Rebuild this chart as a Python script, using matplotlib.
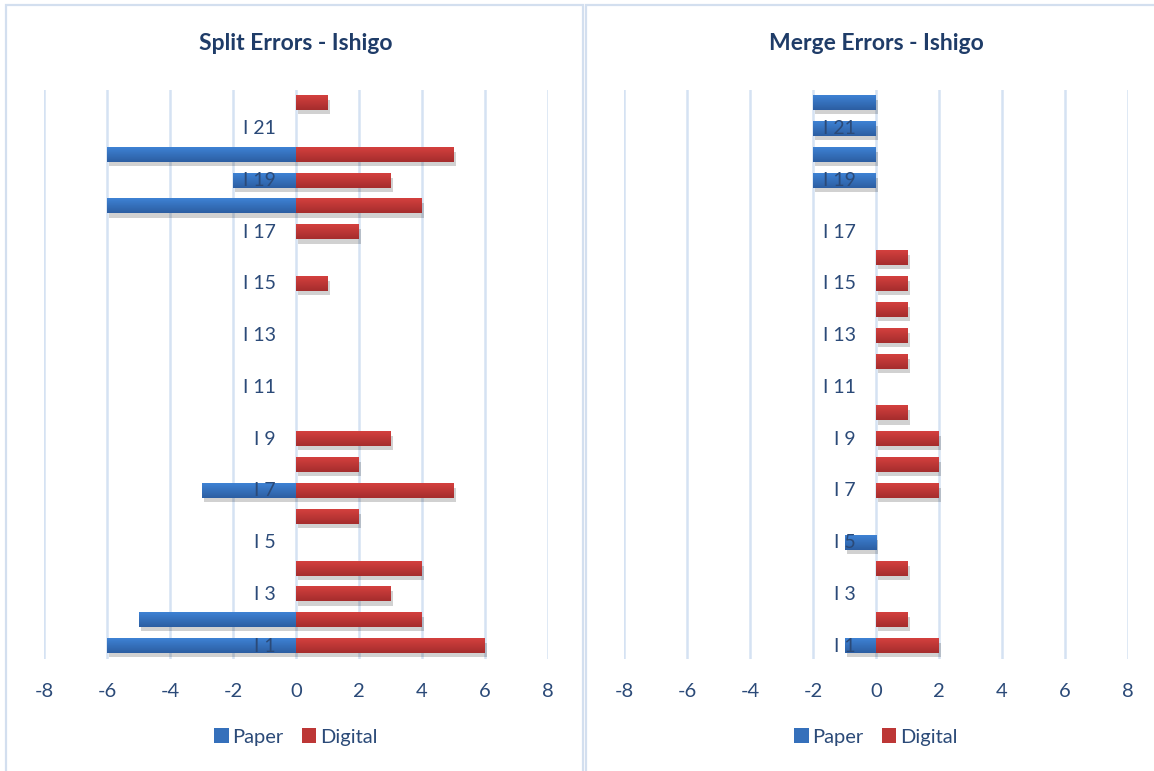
import numpy as np
import matplotlib
matplotlib.use("Agg")
import matplotlib.pyplot as plt
from matplotlib.patches import Rectangle, Patch
import matplotlib.patheffects as pe
import matplotlib.transforms as mtransforms

plt.rcParams['font.family'] = ['Lato', 'DejaVu Sans']

categories = [f"I {i}" for i in range(1, 23)]
split_paper = [-6, -5, 0, 0, 0, 0, -3, 0, 0, 0, 0, 0, 0, 0, 0, 0, 0, -6, -2, -6, 0, 0]
split_digital = [6, 4, 3, 4, 0, 2, 5, 2, 3, 0, 0, 0, 0, 0, 1, 0, 2, 4, 3, 5, 0, 1]
merge_paper = [-1, 0, 0, 0, -1, 0, 0, 0, 0, 0, 0, 0, 0, 0, 0, 0, 0, 0, -2, -2, -2, -2]
merge_digital = [2, 1, 0, 1, 0, 0, 2, 2, 2, 1, 0, 1, 1, 1, 1, 1, 0, 0, 0, 0, 0, 0]
xticks = [-8, -6, -4, -2, 0, 2, 4, 6, 8]
titles = ["Split Errors - Ishigo", "Merge Errors - Ishigo"]

W, H = 1154, 771
fig = plt.figure(figsize=(W / 100, H / 100), dpi=100)

TXT = "#2B4A78"
TITLE = "#1F3C68"
GRID = "#D5E2F3"
BLUE_TOP, BLUE_BOT = np.array([0x3E, 0x82, 0xD4]) / 255, np.array([0x2C, 0x5E, 0xA2]) / 255
RED_TOP, RED_BOT = np.array([0xD4, 0x40, 0x3E]) / 255, np.array([0xA5, 0x2D, 0x2D]) / 255

# panel borders
for x0, x1 in [(6, 583), (586, 1160)]:
    fig.patches.append(Rectangle((x0 / W, -0.01), (x1 - x0) / W, (H - 5) / H + 0.01,
                                 transform=fig.transFigure, fill=False,
                                 edgecolor="#D3DFEF", linewidth=1.6, zorder=0))


def grad_img(top, bot):
    t = np.linspace(0, 1, 32)[:, None]
    return (top[None, :] * (1 - t) + bot[None, :] * t)[:, None, :]


def panel(left_px, paper, digital, title, cx_px):
    ax = fig.add_axes([left_px / W, 112 / H, 504 / W, 569 / H])
    y = np.arange(1, len(categories) + 1)
    shadow = [pe.SimplePatchShadow(offset=(1.5, -3), shadow_rgbFace="black", alpha=0.18), pe.Normal()]
    for vals, top, bot, name in [(paper, BLUE_TOP, BLUE_BOT, "Paper"),
                                 (digital, RED_TOP, RED_BOT, "Digital")]:
        bars = ax.barh(y, vals, height=0.55, color=(top + bot) / 2, zorder=3, label=name)
        for p in bars.patches:
            if p.get_width() == 0:
                p.set_visible(False)
                continue
            p.set_path_effects(shadow)
            x0, w = p.get_x(), p.get_width()
            y0, h = p.get_y(), p.get_height()
            ax.imshow(grad_img(top, bot), extent=[min(x0, x0 + w), max(x0, x0 + w), y0, y0 + h],
                      aspect="auto", zorder=3.5, origin="upper", interpolation="bilinear")
    ax.set_xlim(-8, 8)
    ax.set_ylim(0.5, 22.5)
    ax.set_xticks(xticks)
    ax.set_xticklabels([str(v) for v in xticks], color=TXT, fontsize=14.5)
    ax.tick_params(axis="x", length=0, pad=17)
    ax.set_yticks([])
    for s in ax.spines.values():
        s.set_visible(False)
    for v in xticks:
        ax.axvline(v, color=GRID, lw=1.8, zorder=1)
    trans = mtransforms.offset_copy(ax.transData, fig=fig, x=-20, y=0, units="dots")
    for i, c in enumerate(categories):
        if (i + 1) % 2 == 1:
            ax.text(0, i + 1, c, transform=trans, ha="right", va="center",
                    color=TXT, fontsize=14, zorder=5)
    fig.text(cx_px / W, 1 - 43 / H, title, ha="center", va="center",
             fontsize=16.5, fontweight="bold", color=TITLE)
    handles = [Patch(facecolor=(BLUE_TOP + BLUE_BOT) / 2), Patch(facecolor=(RED_TOP + RED_BOT) / 2)]
    fig.legend(handles, ["Paper", "Digital"], loc="center",
               bbox_to_anchor=(cx_px / W, 1 - 737 / H), ncol=2, frameon=False,
               fontsize=14.5, labelcolor=TXT, handlelength=0.7, handleheight=0.7,
               handletextpad=0.2, columnspacing=0.9)
    return ax


panel(44, split_paper, split_digital, titles[0], 296)
panel(624, merge_paper, merge_digital, titles[1], 876)

fig.savefig("out.png", dpi=100)
